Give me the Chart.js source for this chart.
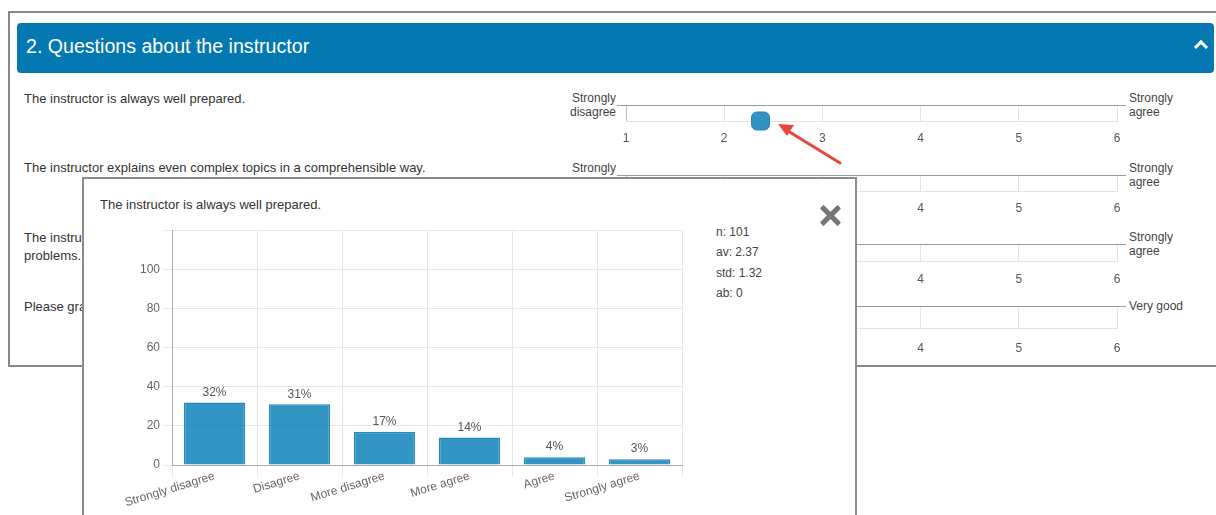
<!DOCTYPE html>
<html>
<head>
<meta charset="utf-8">
<script src="https://cdn.jsdelivr.net/npm/chart.js@4"></script>
<style>
  body { margin: 0; width: 1216px; height: 515px; overflow: hidden; background: #fff;
         font-family: Arial, "Liberation Sans", sans-serif; font-size: 12px; color: #333; position: relative; }
  .abs { position: absolute; }
  #panel { left: 8px; top: 11px; width: 1220px; height: 352px; border: 2px solid #888; }
  #header { left: 17px; top: 23px; width: 1197px; height: 50px; background: #0479b1; border-radius: 4px; }
  #header span { position: absolute; left: 9px; top: 12px; font-size: 19.6px; color: #fff; }
  #chev { left: 1196px; top: 42px; width: 7px; height: 7px; border-top: 3px solid #fff; border-left: 3px solid #fff; transform: rotate(45deg); }
  .q { left: 24px; line-height: 18px; font-size: 13px; white-space: nowrap; }
  .lbl { line-height: 14px; color: #444; white-space: nowrap; }
  .lbl.l { text-align: right; }
  #popup { left: 82px; top: 177px; width: 771px; height: 360px; border: 2px solid #8c8c8c; background: #fff; z-index: 5; }
  #ptitle { left: 16px; top: 18px; font-size: 13px; color: #333; }
  .xbar { left: 734px; top: 34px; width: 25px; height: 5px; background: #777; border-radius: 1px; }
  #stats { left: 632px; top: 43px; line-height: 20.3px; color: #444; }
  #bars { left: 16px; top: 41px; }
  #arrow { left: 0; top: 0; z-index: 4; }
</style>
</head>
<body>
<script>
// popup bar chart data
const categories = ['Strongly disagree', 'Disagree', 'More disagree', 'More agree', 'Agree', 'Strongly agree'];
const percents = [32, 31, 17, 14, 4, 3];
const yMax = 120;
const yStep = 20;
const statLabels = ['n', 'av', 'std', 'ab'];
const statValues = [101, 2.37, 1.32, 0];

// rating rows
const questions = [
  'The instructor is always well prepared.',
  'The instructor explains even complex topics in a comprehensible way.',
  'The instructor responds competently to questions and helps to solve the students\u2019<br>problems.',
  'Please grade the instructor overall.'
];
const leftLabels = ['Strongly<br>disagree', 'Strongly<br>disagree', 'Strongly<br>disagree', 'Very poor'];
const rightLabels = ['Strongly<br>agree', 'Strongly<br>agree', 'Strongly<br>agree', 'Very good'];
const rowAverages = [2.37, null, null, null];
const scaleMin = 1;
const scaleMax = 6;
</script>

<div id="panel" class="abs"></div>
<div id="header" class="abs"><span>2. Questions about the instructor</span></div>
<div id="chev" class="abs"></div>
<div id="rows"></div>

<svg id="arrow" class="abs" width="1216" height="515">
  <line x1="840" y1="163" x2="788" y2="131" stroke="#e8473d" stroke-width="3" stroke-linecap="round"/>
  <polygon points="778,124 794,125 787,136" fill="#e8473d"/>
</svg>

<div id="popup" class="abs">
  <div id="ptitle" class="abs">The instructor is always well prepared.</div>
  <div class="abs xbar" style="transform: rotate(45deg)"></div>
  <div class="abs xbar" style="transform: rotate(-45deg)"></div>
  <div id="stats" class="abs"></div>
  <canvas id="bars" class="abs" width="600" height="295"></canvas>
</div>

<script>
Chart.defaults.font.family = 'Arial, "Liberation Sans", sans-serif';
Chart.defaults.font.size = 12;
Chart.defaults.color = '#666';

document.getElementById('stats').innerHTML =
  statLabels.map((l, i) => l + ': ' + statValues[i]).join('<br>');

// layout of the four rating rows: top line y, box height, tick gap, text y
const rowTop = [105, 175, 244, 306];
const rowBox = [16, 16, 17, 22];
const rowPad = [10, 10, 11, 13];
const qTop = [90, 159, 229, 298];
const side = 20; // canvas padding left/right of the plot box

// the darker rule on top of each scale reaches 9px past the box on both sides
const topLine = {
  id: 'topLine',
  afterDraw(chart) {
    const a = chart.chartArea, c = chart.ctx, y = Math.round(a.top) + 0.5;
    c.save();
    c.strokeStyle = '#9a9a9a';
    c.lineWidth = 1;
    c.beginPath(); c.moveTo(a.left - 9, y); c.lineTo(a.right + 9, y); c.stroke();
    c.restore();
  }
};

const rows = document.getElementById('rows');
questions.forEach((q, i) => {
  const top = rowTop[i];
  rows.insertAdjacentHTML('beforeend',
    `<div class="abs q" style="top:${qTop[i]}px">${q}</div>` +
    `<div class="abs lbl l" style="right:${1216 - 616}px;top:${top - (leftLabels[i].includes('<br>') ? 14 : 7)}px">${leftLabels[i]}</div>` +
    `<div class="abs lbl" style="left:1129px;top:${top - (rightLabels[i].includes('<br>') ? 14 : 7)}px">${rightLabels[i]}</div>` +
    `<canvas id="row${i}" class="abs" style="left:${626 - side}px;top:${top - 2}px" width="${491 + 2 * side}" height="${rowBox[i] + 32}"></canvas>`);
});

questions.forEach((q, i) => {
  const avg = rowAverages[i];
  new Chart(document.getElementById('row' + i), {
    type: 'scatter',
    data: {
      datasets: [{
        data: avg == null ? [] : [{ x: avg, y: 0 }],
        pointStyle: 'rectRounded',
        radius: 10.5,
        backgroundColor: '#3193c4',
        borderColor: '#2a80b0',
        borderWidth: 1,
        clip: false
      }]
    },
    options: {
      responsive: false,
      animation: false,
      layout: { autoPadding: false, padding: { left: side, right: side, top: 2, bottom: 0 } },
      plugins: { legend: { display: false }, tooltip: { enabled: false } },
      scales: {
        x: {
          type: 'linear', min: scaleMin, max: scaleMax,
          ticks: { stepSize: 1, padding: rowPad[i], color: '#555' },
          grid: { drawTicks: false, color: c => c.index === 0 ? '#bdbdbd' : '#e3e3e3' },
          border: { color: '#e3e3e3' },
          afterFit: s => { s.height = 30; }
        },
        y: { display: false, min: 0, max: 1 }
      }
    },
    plugins: [topLine]
  });
});

const barLabels = {
  id: 'barLabels',
  afterDatasetsDraw(chart) {
    const c = chart.ctx;
    const meta = chart.getDatasetMeta(0);
    c.save();
    c.font = '12px Arial, "Liberation Sans", sans-serif';
    c.fillStyle = '#555';
    c.textAlign = 'center';
    c.textBaseline = 'bottom';
    meta.data.forEach((bar, i) => {
      c.fillText(percents[i] + '%', bar.x, bar.y - 4);
    });
    c.restore();
  }
};

new Chart(document.getElementById('bars'), {
  type: 'bar',
  data: {
    labels: categories,
    datasets: [{
      data: percents,
      backgroundColor: 'rgba(0, 122, 180, 0.8)',
      borderColor: '#2888bd',
      borderWidth: 1.5
    }]
  },
  options: {
    responsive: false,
    animation: false,
    layout: { padding: { top: 8, right: 18, left: 0, bottom: 0 } },
    plugins: { legend: { display: false }, tooltip: { enabled: false } },
    scales: {
      x: {
        grid: { color: '#e6e6e6', tickLength: 12, offset: true },
        border: { color: '#aaa' },
        ticks: { minRotation: 17, maxRotation: 17, padding: -8, color: '#666' },
        afterFit: s => { s.height = 50; }
      },
      y: {
        min: 0, max: yMax,
        ticks: { stepSize: yStep, padding: 3, color: '#666', callback: v => v === yMax ? '' : v },
        grid: { color: '#e6e6e6', tickLength: 9 },
        border: { color: '#aaa' },
        afterFit: s => { s.width = 72; }
      }
    }
  },
  plugins: [barLabels]
});
</script>
</body>
</html>
